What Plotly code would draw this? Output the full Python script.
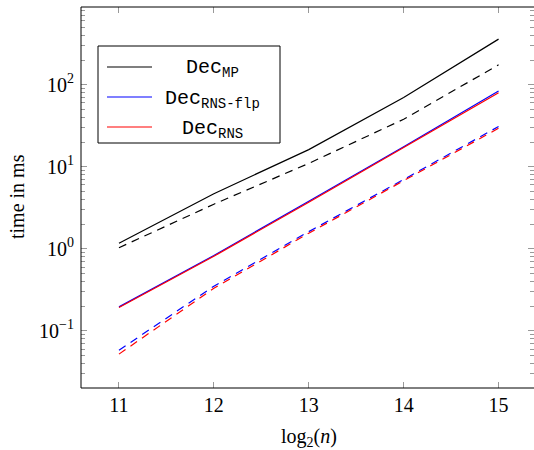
import plotly.graph_objects as go

# ---- data ----
log2n = [11, 12, 13, 14, 15]
mp_solid = [1.17, 4.7, 16.2, 70, 360]
mp_dashed = [1.03, 3.5, 11, 38, 175]
flp_solid = [0.196, 0.83, 3.8, 17.5, 84]
flp_dashed = [0.058, 0.35, 1.62, 7.0, 31]
rns_solid = [0.192, 0.81, 3.7, 17.0, 80]
rns_dashed = [0.052, 0.33, 1.55, 6.7, 29.5]

x_ticks = [11, 12, 13, 14, 15]
y_ticks = [0.1, 1, 10, 100]
y_ticktext = ["10<sup>\u22121</sup>", "10<sup>0</sup>", "10<sup>1</sup>", "10<sup>2</sup>"]
legend_labels = ["Dec<sub>MP</sub>", "Dec<sub>RNS-flp</sub>", "Dec<sub>RNS</sub>"]
legend_colors = ["black", "#0000ff", "#ff0000"]

# ---- geometry ----
W, H = 534, 450
L, T, B = 81, 7, 388
PW = W - L
PH = B - T


def px(x):
    return (x - L) / PW


def py(y):
    return (B - y) / PH


serif = "Liberation Serif"
mono = "Liberation Mono"

fig = go.Figure()
series = [
    (mp_solid, "black", "solid"),
    (mp_dashed, "black", "8px,6px"),
    (flp_solid, "#0000ff", "solid"),
    (flp_dashed, "#0000ff", "8px,6px"),
    (rns_solid, "#ff0000", "solid"),
    (rns_dashed, "#ff0000", "8px,6px"),
]
for ys, c, d in series:
    fig.add_trace(go.Scatter(x=log2n, y=ys, mode="lines",
                             line=dict(color=c, width=1.2, dash=d),
                             showlegend=False, hoverinfo="skip"))

minor_vals = [d * 10 ** k for k in range(-2, 3) for d in range(2, 10)]

fig.update_layout(
    width=W, height=H,
    margin=dict(l=L, r=0, t=T, b=H - B),
    paper_bgcolor="white", plot_bgcolor="white",
    showlegend=False,
    font=dict(family=serif, size=20, color="black"),
    xaxis=dict(range=[10.6, 10.6 + PW / 94.9], tickvals=x_ticks,
               ticks="inside", ticklen=6, tickcolor="#999", tickwidth=1,
               mirror="ticks", showline=False, showgrid=False, zeroline=False,
               ticklabelstandoff=3,
               tickfont=dict(family=serif, size=20)),
    yaxis=dict(type="log", range=[-1.697, 2.948], tickvals=y_ticks, ticktext=y_ticktext,
               ticks="inside", ticklen=6, tickcolor="#999", tickwidth=1,
               mirror="ticks", showline=False, showgrid=False, zeroline=False,
               ticklabelstandoff=6,
               tickfont=dict(family=serif, size=20),
               minor=dict(tickvals=minor_vals, ticks="inside", ticklen=4,
                          tickcolor="#999", tickwidth=1, showgrid=False)),
)

# frame
fig.add_shape(type="rect", xref="paper", yref="paper",
              x0=0, x1=px(537), y0=0, y1=1,
              line=dict(color="black", width=1), layer="above")

# axis titles
fig.add_annotation(xref="paper", yref="paper", x=px(309), y=py(437),
                   text="log<sub>2</sub>(<i>n</i>)", showarrow=False,
                   xanchor="center", yanchor="middle",
                   font=dict(family=serif, size=20))
fig.add_annotation(xref="paper", yref="paper", x=px(17), y=py(197),
                   text="time in ms", showarrow=False, textangle=-90,
                   xanchor="center", yanchor="middle",
                   font=dict(family=serif, size=20))

# legend (drawn manually)
fig.add_shape(type="rect", xref="paper", yref="paper",
              x0=px(98), x1=px(280), y0=py(143), y1=py(46),
              line=dict(color="black", width=1), fillcolor="white", layer="above")
rows = [67, 97, 127]
for lab, col, yy in zip(legend_labels, legend_colors, rows):
    fig.add_shape(type="line", xref="paper", yref="paper",
                  x0=px(107), x1=px(152), y0=py(yy), y1=py(yy),
                  line=dict(color=col, width=1.2), layer="above")
    fig.add_annotation(xref="paper", yref="paper", x=px(212), y=py(yy + 2),
                       text=lab, showarrow=False, xanchor="center", yanchor="middle",
                       font=dict(family=mono, size=20, color="black"))

fig.write_html("out.html", config={"displayModeBar": False},
               post_script="document.body.style.margin='0';document.body.style.overflow='hidden';")
